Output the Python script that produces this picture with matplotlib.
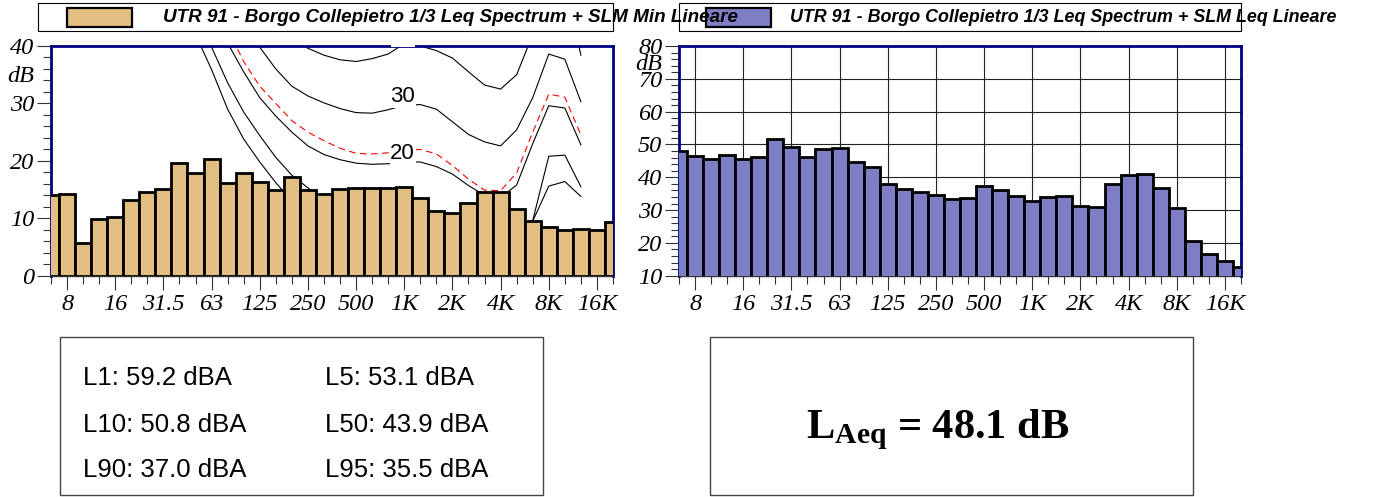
import numpy as np
import matplotlib
matplotlib.use('Agg')
import matplotlib.pyplot as plt
from matplotlib.patches import Rectangle

plt.rcParams['mathtext.fontset'] = 'custom'
plt.rcParams['mathtext.bf'] = 'Liberation Serif:bold'
plt.rcParams['mathtext.rm'] = 'Liberation Serif'

# bande 1/3 ottava (6.3 Hz - 20 kHz)
bande = ['6.3', '8', '10', '12.5', '16', '20', '25', '31.5', '40', '50', '63', '80',
         '100', '125', '160', '200', '250', '315', '400', '500', '630', '800', '1K',
         '1.25K', '1.6K', '2K', '2.5K', '3.15K', '4K', '5K', '6.3K', '8K', '10K',
         '12.5K', '16K', '20K']
etichette_x = ['8', '16', '31.5', '63', '125', '250', '500', '1K', '2K', '4K', '8K', '16K']

# SLM Min Lineare
livelli_min = [14.05, 14.2, 5.7, 9.8, 10.3, 13.1, 14.5, 15.1, 19.6, 17.8, 20.4, 16.1,
               17.8, 16.3, 15.0, 17.2, 14.9, 14.2, 15.1, 15.3, 15.2, 15.2, 15.4,
               13.6, 11.3, 11.0, 12.6, 14.6, 14.6, 11.6, 9.5, 8.4, 7.95, 8.1, 7.9, 9.3]
# SLM Leq Lineare
livelli_leq = [48.0, 46.5, 45.5, 46.7, 45.7, 46.3, 51.7, 49.2, 46.1, 48.5, 48.9, 44.8,
               43.1, 37.9, 36.4, 35.6, 34.5, 33.3, 33.8, 37.4, 36.0, 34.4, 32.8,
               33.9, 34.4, 31.3, 31.0, 37.9, 40.8, 41.1, 36.7, 30.5, 20.7, 16.6, 14.6, 12.7]

# curve isofoniche (da 40 Hz a 12.5 kHz)
banda_iso = bande[8:34]
iso_0 = [48, 42, 35.9, 29.0, 23.8, 19.8, 16.2, 13.0, 10.0, 7.5, 6.0, 5.0, 4.5, 4.0, 4.0,
         4.0, 3.5, 2.0, 0.5, 0.0, 0.0, 3.0, 9.5, 15.6, 16.4, 13.8]
iso_10 = [52, 45, 39.8, 33.6, 28.5, 24.4, 20.6, 17.5, 15.3, 13.0, 11.5, 10.5, 10.0, 9.8,
          10.0, 10.0, 9.5, 8.0, 6.0, 5.0, 5.0, 6.0, 9.6, 20.8, 21.0, 15.5]
iso_20 = [58, 52, 46, 40.5, 35.5, 31.0, 27.8, 25.0, 22.6, 21.1, 20.2, 19.6, 19.4, 19.5,
          19.8, 19.8, 19.0, 17.7, 15.7, 14.0, 13.6, 15.8, 23.0, 29.6, 29.2, 22.8]
iso_rossa = [62, 55, 49, 43.0, 37.3, 33.0, 30.0, 27.0, 25.0, 23.5, 22.2, 21.3, 21.2, 21.4,
             21.8, 22.0, 21.2, 19.2, 16.8, 14.9, 14.8, 17.9, 25.0, 31.6, 31.1, 24.5]
iso_30 = [68, 62, 56, 51, 47.0, 39.8, 36.0, 33.0, 31.3, 30.1, 29.1, 28.4, 28.3, 28.9,
          29.7, 29.8, 29.0, 26.8, 24.6, 23.3, 22.6, 25.4, 31.0, 38.6, 37.7, 30.3]
iso_40 = [80, 75, 70, 65, 60, 55, 50, 41.5, 39.6, 38.4, 37.6, 37.3, 37.8, 38.6, 40.4,
          40.0, 39.2, 37.9, 35.5, 33.2, 32.5, 35.0, 42.0, 52.0, 51.0, 38.4]

statistici = ['L1: 59.2 dBA', 'L5: 53.1 dBA', 'L10: 50.8 dBA', 'L50: 43.9 dBA',
              'L90: 37.0 dBA', 'L95: 35.5 dBA']
laeq = 48.1

W, H = 1383, 497
fig = plt.figure(figsize=(W / 100, H / 100), dpi=100)


def fx(px):
    return px / W


def fy(py):
    return 1 - py / H


def box(x0, y0, x1, y1, **kw):
    r = Rectangle((fx(x0), fy(y1)), fx(x1) - fx(x0), fy(y0) - fy(y1),
                  transform=fig.transFigure, **kw)
    fig.add_artist(r)
    return r


blu = '#000080'
fonte_assi = dict(family='Liberation Serif', style='italic', size=17.5)

x = np.arange(len(bande))
x_iso = np.arange(8, 34)
pos_et = [bande.index(e) for e in etichette_x]


def prepara_asse(ax, ymin, ymax):
    ax.set_xlim(0, 35)
    ax.set_ylim(ymin, ymax)
    ax.set_xticks(pos_et)
    ax.set_xticklabels(etichette_x, **fonte_assi)
    ax.set_xticks(x, minor=True)
    ax.set_yticks(np.arange(ymin, ymax + 1, 10))
    ax.set_yticklabels([str(v) for v in range(ymin, ymax + 1, 10)], **fonte_assi)
    ax.set_yticks(np.arange(ymin, ymax + 1, 2), minor=True)
    ax.tick_params(which='major', length=10, width=0.8, color='#333333', pad=2)
    ax.tick_params(which='minor', length=5.5, width=0.8, color='#333333')
    ax.tick_params(axis='x', which='major', pad=3)
    for s in ['left', 'top', 'right']:
        ax.spines[s].set_color(blu)
        ax.spines[s].set_linewidth(2.0)
    ax.spines['bottom'].set_color('#333333')
    ax.spines['bottom'].set_linewidth(1.0)


# --- grafico sinistro: Min Lineare + isofoniche ---
ax1 = fig.add_axes([fx(51), fy(275.7), fx(562), (275.7 - 46) / H])
prepara_asse(ax1, 0, 40)
ax1.bar(x, livelli_min, width=1.0, color='#E2BE82', edgecolor='black', linewidth=2.0,
        zorder=3)
for curva in [iso_0, iso_10, iso_20, iso_30, iso_40]:
    ax1.plot(x_iso, curva, color='black', linewidth=0.8, zorder=2)
ax1.plot(x_iso, iso_rossa, color='red', linewidth=0.8, linestyle=(0, (6, 4)), zorder=2)
for val, yy in [('30', 31.2), ('20', 21.2)]:
    ax1.text(21.9, yy, val, ha='center', va='center', family='Liberation Sans',
             size=16, zorder=4,
             bbox=dict(facecolor='white', edgecolor='none', pad=0.5))
# etichetta "40" tagliata dal bordo
ax1.add_patch(Rectangle((21.2, 39.75), 1.5, 0.6, facecolor='white', edgecolor='none',
                        zorder=5, clip_on=False))
fig.text(fx(21), fy(77), 'dB', ha='center', va='center', **fonte_assi)

# --- grafico destro: Leq Lineare ---
ax2 = fig.add_axes([fx(679), fy(275.7), fx(562), (275.7 - 46) / H])
prepara_asse(ax2, 10, 80)
ax2.set_axisbelow(True)
ax2.grid(True, which='major', color='#222222', linewidth=0.8)
ax2.bar(x, livelli_leq, width=1.0, color='#7E7EC5', edgecolor='black', linewidth=2.0,
        zorder=3)
fig.text(fx(649), fy(65), 'dB', ha='center', va='center', **fonte_assi)

# --- legende ---
fonte_leg = dict(family='Liberation Sans', weight='bold', style='italic')
box(38, 3, 613, 31, facecolor='white', edgecolor='black', linewidth=0.8, zorder=1)
box(679, 3, 1241, 31, facecolor='white', edgecolor='black', linewidth=0.8, zorder=1)
box(67, 8, 132, 27, facecolor='#E2BE82', edgecolor='black', linewidth=1.6, zorder=2)
box(706, 8, 771, 27, facecolor='#7E7EC5', edgecolor='black', linewidth=1.6, zorder=2)
fig.text(fx(163), fy(17.5), 'UTR 91 - Borgo Collepietro 1/3 Leq Spectrum + SLM Min Lineare',
         va='center', zorder=3, size=13.6, **fonte_leg)
fig.text(fx(790), fy(17.5), 'UTR 91 - Borgo Collepietro 1/3 Leq Spectrum + SLM Leq Lineare',
         va='center', zorder=3, size=12.9, **fonte_leg)

# --- riquadro livelli statistici ---
box(60, 337, 543, 495, facecolor='white', edgecolor='#444444', linewidth=1.0)
righe = [385, 431.7, 476.7]
for i, s in enumerate(statistici):
    fig.text(fx(83 if i % 2 == 0 else 325), fy(righe[i // 2]), s, va='baseline',
             family='Liberation Sans', size=18.5)

# --- riquadro LAeq ---
box(710, 337, 1193, 495, facecolor='white', edgecolor='#444444', linewidth=1.0)
fig.text(fx(806), fy(438), r'$\mathbf{L_{Aeq}}$' + f' = {laeq:.1f} dB', va='baseline',
         family='Liberation Serif', weight='bold', size=30.5)

fig.savefig('out.png', dpi=100)
